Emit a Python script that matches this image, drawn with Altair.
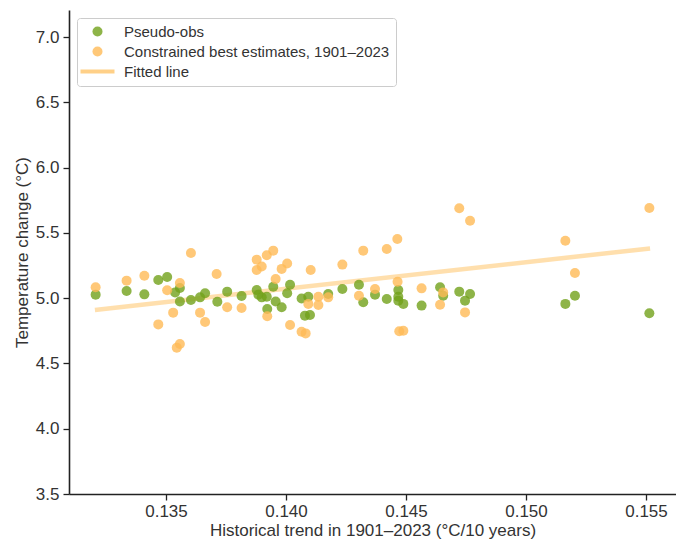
import altair as alt
import pandas as pd

# Pseudo-obs (green)
obs_x = [0.13207, 0.13336, 0.13410, 0.13468, 0.13505, 0.13538, 0.13558, 0.13558, 0.13604, 0.13642,
         0.13663, 0.13714, 0.13755, 0.13815, 0.13878, 0.13885, 0.13899, 0.13920, 0.13922, 0.13947,
         0.13957, 0.13982, 0.14005, 0.14017, 0.14065, 0.14093, 0.14079, 0.14100, 0.14176, 0.14235,
         0.14304, 0.14322, 0.14371, 0.14420, 0.14468, 0.14468, 0.14468, 0.14489, 0.14565, 0.14642,
         0.14655, 0.14722, 0.14767, 0.14746, 0.15204, 0.15164, 0.15514]
obs_y = [5.027, 5.055, 5.029, 5.139, 5.162, 5.044, 5.078, 4.975, 4.986, 5.006,
         5.037, 4.973, 5.050, 5.017, 5.063, 5.027, 5.006, 5.011, 4.917, 5.088,
         4.975, 4.930, 5.037, 5.103, 4.998, 5.011, 4.866, 4.871, 5.032, 5.070,
         5.103, 4.968, 5.027, 4.994, 5.063, 5.011, 4.981, 4.956, 4.943, 5.083,
         5.019, 5.050, 5.032, 4.981, 5.019, 4.956, 4.884]

# Constrained best estimates (orange)
est_x = [0.13207, 0.13336, 0.13410, 0.13604, 0.13558, 0.13505, 0.13711, 0.13530, 0.13468, 0.13642,
         0.13663, 0.13558, 0.13545, 0.13755, 0.13815, 0.13878, 0.13878, 0.13899, 0.13920, 0.13947,
         0.13982, 0.14005, 0.13957, 0.13922, 0.14017, 0.14065, 0.14082, 0.14103, 0.14093, 0.14135,
         0.14135, 0.14176, 0.14235, 0.14304, 0.14322, 0.14420, 0.14464, 0.14722, 0.14767, 0.14371,
         0.14465, 0.14565, 0.14655, 0.14642, 0.14746, 0.14472, 0.14489, 0.15164, 0.15204, 0.15514]
est_y = [5.083, 5.134, 5.172, 5.346, 5.116, 5.060, 5.185, 4.889, 4.799, 4.889,
         4.818, 4.649, 4.621, 4.930, 4.925, 5.295, 5.216, 5.243, 5.328, 5.364,
         5.224, 5.266, 5.147, 4.861, 4.795, 4.743, 4.730, 5.216, 4.956, 5.011,
         4.948, 5.006, 5.257, 5.019, 5.364, 5.377, 5.453, 5.688, 5.593, 5.070,
         5.126, 5.075, 5.044, 4.950, 4.891, 4.746, 4.751, 5.440, 5.193, 5.691]

# Fitted line end points
line_x = [0.13204, 0.15517]
line_y = [4.910, 5.381]

x_ticks = [0.135, 0.140, 0.145, 0.150, 0.155]
y_ticks = [3.5, 4.0, 4.5, 5.0, 5.5, 6.0, 6.5, 7.0]

S_OBS = "Pseudo-obs"
S_EST = "Constrained best estimates, 1901\u20132023"
S_FIT = "Fitted line"

pts = pd.concat([
    pd.DataFrame({"x": obs_x, "y": obs_y, "series": S_OBS}),
    pd.DataFrame({"x": est_x, "y": est_y, "series": S_EST}),
], ignore_index=True)
pts["order"] = range(len(pts))
line_df = pd.DataFrame({"x": line_x, "y": line_y, "series": S_FIT})

FONT = "Liberation Sans"

color_scale = alt.Scale(domain=[S_OBS, S_EST, S_FIT],
                        range=["#72a11a", "#ffba56", "#ffc46a"])
shape_scale = alt.Scale(domain=[S_OBS, S_EST, S_FIT],
                        range=["circle", "circle", "M-3.4,-0.42H3.4V0.42H-3.4Z"])

legend = alt.Legend(
    title=None, orient="none", legendX=8, legendY=8,
    labelFont=FONT, labelFontSize=15, labelColor="#333333", labelLimit=500,
    symbolSize=100, symbolOpacity=0.8, symbolStrokeWidth=0, symbolOffset=7,
    rowPadding=4, labelOffset=19, gridAlign="all",
    padding=6, strokeColor="#cccccc", fillColor="white", cornerRadius=3,
)

x_enc = alt.X("x:Q", scale=alt.Scale(domain=[0.13096, 0.15625], nice=False, zero=False),
              axis=alt.Axis(values=x_ticks, format=".3f",
                            title="Historical trend in 1901\u20132023 (\u00b0C/10 years)"))
y_enc = alt.Y("y:Q", scale=alt.Scale(domain=[3.5, 7.207], nice=False, zero=False),
              axis=alt.Axis(values=y_ticks, format=".1f", title="Temperature change (\u00b0C)"))

line = alt.Chart(line_df).mark_line(strokeWidth=4.5, opacity=0.55).encode(
    x=x_enc, y=y_enc,
    color=alt.Color("series:N", scale=color_scale, legend=legend),
)

points = alt.Chart(pts).mark_point(filled=True, size=100, opacity=0.8).encode(
    x=x_enc, y=y_enc,
    color=alt.Color("series:N", scale=color_scale, legend=legend),
    shape=alt.Shape("series:N", scale=shape_scale, legend=legend),
    order=alt.Order("order:Q"),
)

chart = alt.layer(line, points).properties(
    width=607, height=484,
    autosize=alt.AutoSizeParams(type="none"),
    padding={"left": 69, "top": 10, "right": 0, "bottom": 46},
).configure_view(stroke=None).configure_axis(
    grid=False, domainColor="#222222", domainWidth=1.6,
    tickColor="#222222", tickWidth=1.3, tickSize=6,
    labelFont=FONT, labelFontSize=17, labelColor="#333333", labelPadding=4,
    titleFont=FONT, titleFontSize=17, titleFontWeight="normal", titleColor="#333333",
).configure_axisX(titlePadding=3, labelPadding=3).configure_axisY(titlePadding=4)

chart.save("out.html", embed_options={"renderer": "svg", "actions": False})
